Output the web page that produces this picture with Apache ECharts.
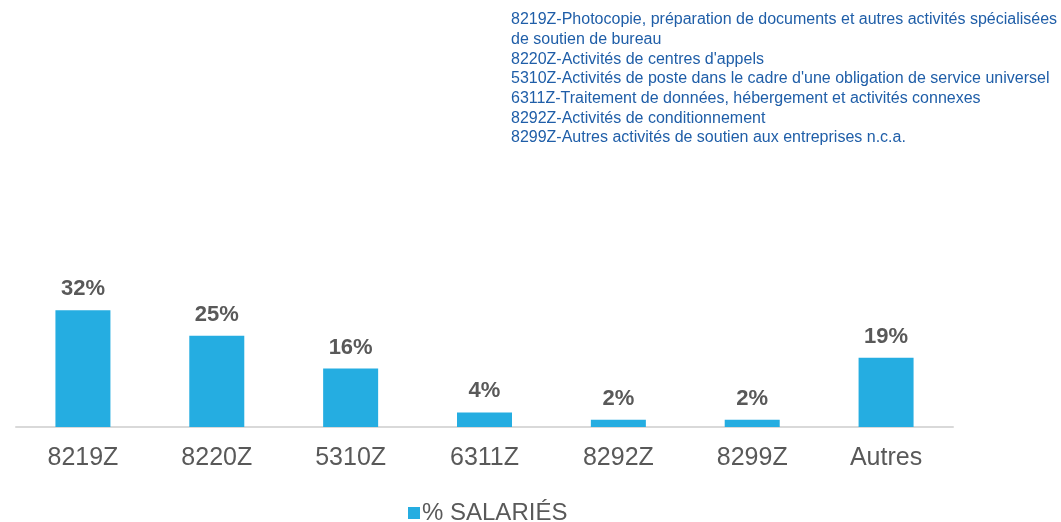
<!DOCTYPE html>
<html>
<head>
<meta charset="utf-8">
<script src="https://cdn.jsdelivr.net/npm/echarts@6/dist/echarts.min.js"></script>
<style>html,body{margin:0;padding:0;background:#fff}#c{width:1061px;height:522px}</style>
</head>
<body>
<div id="c"></div>
<script>
var categories = ['8219Z', '8220Z', '5310Z', '6311Z', '8292Z', '8299Z', 'Autres'];
var salaries = [32, 25, 16, 4, 2, 2, 19];
var seriesName = '% SALARIÉS';
var descriptions = [
  '8219Z-Photocopie, préparation de documents et autres activités spécialisées',
  'de soutien de bureau',
  "8220Z-Activités de centres d'appels",
  "5310Z-Activités de poste dans le cadre d'une obligation de service universel",
  '6311Z-Traitement de données, hébergement et activités connexes',
  '8292Z-Activités de conditionnement',
  '8299Z-Autres activités de soutien aux entreprises n.c.a.'
];

var FONT = '"Liberation Sans", Arial, sans-serif';
var chart = echarts.init(document.getElementById('c'));
chart.setOption({
  animation: false,
  backgroundColor: '#ffffff',
  textStyle: { fontFamily: FONT },
  title: {
    text: descriptions.join('\n'),
    left: 506,
    top: 5,
    textStyle: {
      fontFamily: FONT,
      fontSize: 16,
      fontWeight: 'normal',
      color: '#1F5EA8',
      lineHeight: 19.7
    }
  },
  legend: {
    data: [seriesName],
    bottom: -8,
    left: 403,
    itemWidth: 12,
    itemHeight: 12,
    itemGap: 5,
    icon: 'rect',
    textStyle: { fontSize: 24, color: '#595959', fontFamily: FONT, padding: [0, 0, 0, -3] }
  },
  grid: { left: 16, right: 108, top: 281, bottom: 95, containLabel: false },
  xAxis: {
    type: 'category',
    data: categories,
    axisLine: { lineStyle: { color: '#D9D9D9', width: 2 } },
    axisTick: { show: false },
    axisLabel: { fontSize: 25, color: '#595959', margin: 19, fontFamily: FONT }
  },
  yAxis: {
    type: 'value',
    min: 0,
    max: 40,
    show: false,
    splitLine: { show: false }
  },
  series: [{
    name: seriesName,
    type: 'bar',
    data: salaries,
    barWidth: 55,
    itemStyle: { color: '#25ADE1' },
    label: {
      show: true,
      position: 'top',
      distance: 10,
      formatter: '{c}%',
      fontSize: 22,
      fontWeight: 'bold',
      color: '#595959',
      fontFamily: FONT
    }
  }]
});
</script>
</body>
</html>
